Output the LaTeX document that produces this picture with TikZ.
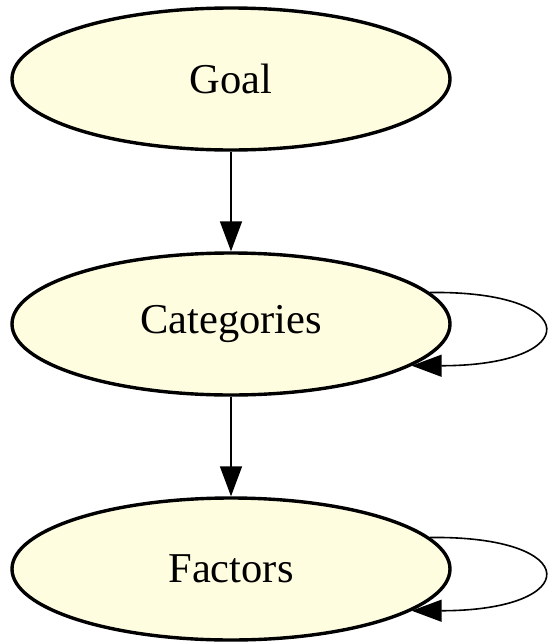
\documentclass[tikz,border=0pt]{standalone}
\usepackage{fontspec}
\setmainfont{Liberation Serif}
\usetikzlibrary{arrows.meta,shapes.geometric}
\definecolor{nodefill}{HTML}{FFFDE0}

\begin{document}
\begin{tikzpicture}[x=1pt, y=-1pt,
    state/.style={draw, ellipse, line width=3.4pt, fill=nodefill, minimum width=438pt, minimum height=142pt, inner sep=0pt, font=\fontsize{42.5}{50}\selectfont},
    edge/.style={-{Triangle[length=30pt, width=22pt]}, line width=1.6pt}]
            \useasboundingbox (0,0) rectangle (548,643);
            \node[state] (G) at (231,79) {Goal};
            \node[state] (C) at (231,324) {Categories};
            \node[state] (F) at (231,569) {Factors};

            \draw[edge] (G) -- (C);
            \draw[edge] (C) -- (F);
            \draw[edge] (C.9) .. controls +(154,-2) and +(172,0) .. (C.-13);
            \draw[edge] (F.9) .. controls +(154,-2) and +(172,0) .. (F.-13);
        \end{tikzpicture}
\end{document}
